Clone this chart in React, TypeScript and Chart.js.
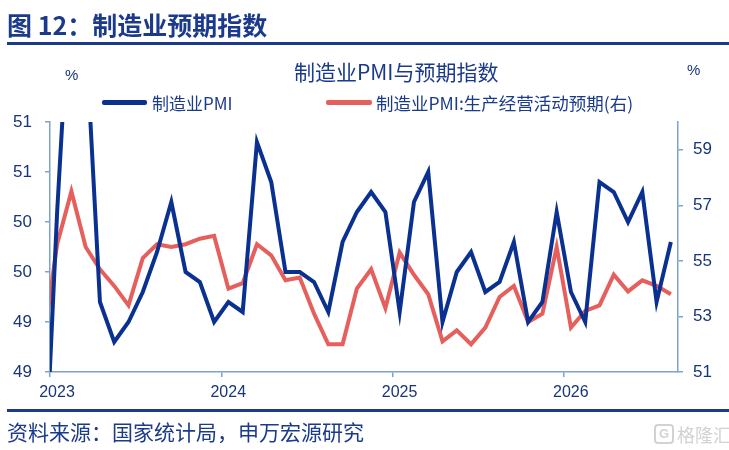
import { useEffect, useRef } from "react";
import { Chart, registerables } from "chart.js";

Chart.register(...registerables);

// monthly series, first value is Dec 2022 (sits just left of the axis start)
const firstMonthIndex = -1;
const pmi = [
    47.0, 50.1, 52.6, 51.9, 49.2, 48.8, 49.0, 49.3, 49.7, 50.2, 49.5, 49.4, 49.0,
    49.2, 49.1, 50.8, 50.4, 49.5, 49.5, 49.4, 49.1, 49.8, 50.1, 50.3, 50.1,
    49.1, 50.2, 50.5, 49.0, 49.5, 49.7, 49.3, 49.4, 49.8, 49.0, 49.2, 50.1,
    49.3, 49.0, 50.4, 50.3, 50.0, 50.3, 49.2, 49.8,
];
const expectation = [
    51.9, 55.6, 57.5, 55.5, 54.7, 54.1, 53.4, 55.1, 55.6, 55.5, 55.6, 55.8, 55.9,
    54.0, 54.2, 55.6, 55.2, 54.3, 54.4, 53.1, 52.0, 52.0, 54.0, 54.7, 53.3,
    55.3, 54.5, 53.8, 52.1, 52.5, 52.0, 52.6, 53.7, 54.1, 52.8, 53.1, 55.5,
    52.6, 53.2, 53.4, 54.5, 53.9, 54.3, 54.1, 53.8,
];
const seriesNames = ["制造业PMI", "制造业PMI:生产经营活动预期(右)"];
const yearLabels = ["2023", "2024", "2025", "2026"];
const yearBoundaries = [-0.5, 11.5, 23.5, 35.5];
const pmiTicks = [48.5, 49, 49.5, 50, 50.5, 51];
const expectationTicks = [51, 53, 55, 57, 59];

const NAVY = "#1B3A8C";
const TICK_TEXT = "#17357C";
const AXIS = "#7EA2CF";
const BLUE = "#0A3190";
const RED = "#E5605D";
const CJK = '"Noto Sans CJK SC", "Noto Sans", sans-serif';
const LATIN = '"Liberation Sans", Arial, sans-serif';

const App = () => {
    const canvasRef = useRef<HTMLCanvasElement>(null);

    useEffect(() => {
        if (!canvasRef.current) return;
        const ctx = canvasRef.current.getContext("2d");
        if (!ctx) return;

        const toPoints = (values: number[]) =>
            values.map((v, i) => ({ x: firstMonthIndex + i, y: v }));

        const axisGrid = {
            drawOnChartArea: false,
            drawTicks: true,
            tickLength: 5,
            color: AXIS,
            lineWidth: 1.5,
        };

        const chart = new Chart(ctx, {
            type: "line",
            data: {
                datasets: [
                    {
                        label: seriesNames[0],
                        data: toPoints(pmi),
                        yAxisID: "y",
                        borderColor: BLUE,
                        backgroundColor: BLUE,
                        borderWidth: 4,
                        pointRadius: 0,
                        tension: 0,
                        clip: 0,
                    },
                    {
                        label: seriesNames[1],
                        data: toPoints(expectation),
                        yAxisID: "y1",
                        borderColor: RED,
                        backgroundColor: RED,
                        borderWidth: 4,
                        pointRadius: 0,
                        tension: 0,
                        clip: 0,
                    },
                ],
            },
            options: {
                animation: false,
                responsive: true,
                maintainAspectRatio: false,
                layout: { padding: { top: 122, bottom: 48, left: 0, right: 0 } },
                plugins: {
                    legend: { display: false },
                    title: { display: false },
                    tooltip: { enabled: false },
                },
                scales: {
                    x: {
                        type: "linear",
                        min: -0.5,
                        max: 43.5,
                        afterBuildTicks: (s: any) => {
                            s.ticks = yearBoundaries.map((v) => ({ value: v }));
                        },
                        afterFit: (s: any) => {
                            s.height = 30;
                        },
                        ticks: {
                            callback: (_v: any, i: number) => yearLabels[i],
                            color: TICK_TEXT,
                            font: { family: LATIN, size: 16 },
                            padding: 6,
                            labelOffset: 7,
                            maxRotation: 0,
                            autoSkip: false,
                        },
                        grid: axisGrid,
                        border: { color: AXIS, width: 1.5 },
                    },
                    y: {
                        position: "left",
                        min: 48.5,
                        max: 51,
                        afterBuildTicks: (s: any) => {
                            s.ticks = pmiTicks.map((v) => ({ value: v }));
                        },
                        afterFit: (s: any) => {
                            s.width = 50;
                        },
                        ticks: {
                            callback: (v: any) => Number(v).toFixed(0),
                            color: TICK_TEXT,
                            font: { family: LATIN, size: 17 },
                            padding: 13,
                        },
                        grid: axisGrid,
                        border: { color: AXIS, width: 1.5 },
                    },
                    y1: {
                        position: "right",
                        min: 51,
                        max: 60,
                        afterBuildTicks: (s: any) => {
                            s.ticks = expectationTicks.map((v) => ({ value: v }));
                        },
                        afterFit: (s: any) => {
                            s.width = 51;
                        },
                        ticks: {
                            callback: (v: any) => String(v),
                            color: TICK_TEXT,
                            font: { family: LATIN, size: 17 },
                            padding: 10,
                        },
                        grid: axisGrid,
                        border: { color: AXIS, width: 1.5 },
                    },
                },
            },
        });
        return () => {
            chart.destroy();
        };
    }, []);

    const abs = (left: number, top: number, extra: any = {}) => ({
        position: "absolute" as const,
        left,
        top,
        whiteSpace: "nowrap" as const,
        lineHeight: 1,
        ...extra,
    });

    return (
        <div style={{ position: "absolute", left: 0, top: 0, width: 729, height: 450, background: "#fff", overflow: "hidden" }}>
            <div style={{ position: "absolute", left: 0, top: 0, width: 729, height: 450 }}>
                <canvas ref={canvasRef}></canvas>
            </div>

            <div style={abs(7, 12, { fontFamily: CJK, fontSize: 25, fontWeight: 700, color: NAVY })}>
                图 12：制造业预期指数
            </div>
            <div style={{ position: "absolute", left: 7, top: 42, width: 722, height: 3, background: NAVY }} />

            <div style={abs(294, 61, { fontFamily: CJK, fontSize: 21, color: NAVY })}>
                制造业PMI与预期指数
            </div>
            <div style={abs(65, 67, { fontFamily: LATIN, fontSize: 15, color: TICK_TEXT })}>%</div>
            <div style={abs(687, 62, { fontFamily: LATIN, fontSize: 15, color: TICK_TEXT })}>%</div>

            <div style={{ position: "absolute", left: 102, top: 100, width: 45, height: 5, background: BLUE, borderRadius: 2 }} />
            <div style={abs(152, 94, { fontFamily: CJK, fontSize: 17, color: NAVY })}>{seriesNames[0]}</div>
            <div style={{ position: "absolute", left: 326, top: 100, width: 46, height: 5, background: RED, borderRadius: 2 }} />
            <div style={abs(376, 94, { fontFamily: CJK, fontSize: 17.5, color: NAVY })}>{seriesNames[1]}</div>

            <div style={{ position: "absolute", left: 7, top: 409, width: 722, height: 2.5, background: NAVY }} />
            <div style={abs(7, 421, { fontFamily: CJK, fontSize: 21, color: NAVY })}>
                资料来源：国家统计局，申万宏源研究
            </div>
            <div style={abs(654, 424, { fontFamily: CJK, fontSize: 18, color: "#D2D2D2", display: "flex", alignItems: "center" })}>
                <span style={{ display: "inline-block", width: 16, height: 16, border: "2px solid #D2D2D2", borderRadius: 4, marginRight: 3, fontFamily: LATIN, fontSize: 13, fontWeight: 700, textAlign: "center", lineHeight: "16px" }}>G</span>
                格隆汇
            </div>
        </div>
    );
};

export default App;
